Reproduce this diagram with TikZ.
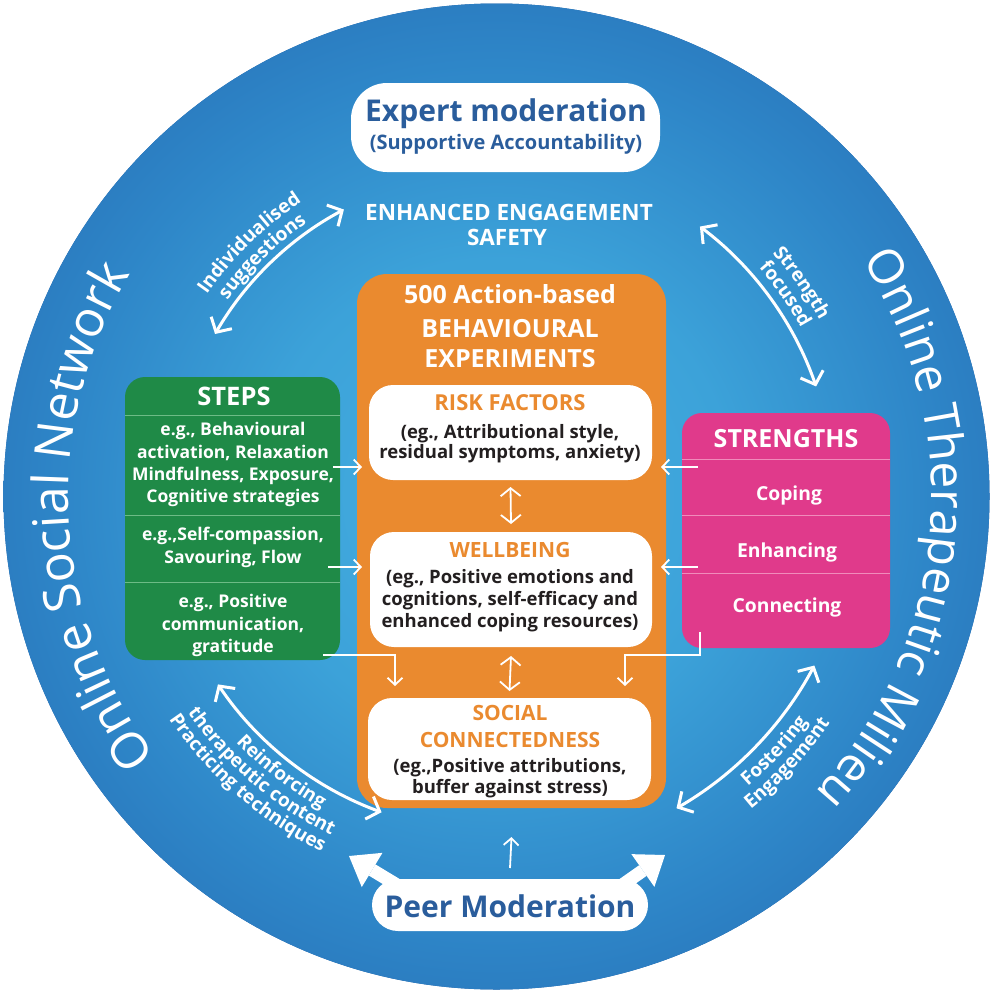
\documentclass[tikz,border=0pt]{standalone}
\usepackage{fontspec}
\setmainfont{Open Sans}
\usetikzlibrary{arrows.meta,decorations.text,calc}

\definecolor{ring}{HTML}{255EA2}
\definecolor{orng}{HTML}{EA8A2F}
\definecolor{grn}{HTML}{1F8A47}
\definecolor{grnline}{HTML}{6DBB86}
\definecolor{pnk}{HTML}{E03A8B}
\definecolor{pnkline}{HTML}{F08BBB}
\definecolor{navy}{HTML}{2A5D9C}
\definecolor{ink}{HTML}{231F20}

\pgfdeclareradialshading{disc}{\pgfpoint{0bp}{0bp}}{%
  color(0bp)=(rgb,255:red,70;green,175;blue,225);
  color(12bp)=(rgb,255:red,60;green,162;blue,217);
  color(22bp)=(rgb,255:red,46;green,134;blue,200);
  color(30bp)=(rgb,255:red,40;green,113;blue,183);
  color(38bp)=(rgb,255:red,37;green,98;blue,168);
  color(50bp)=(rgb,255:red,36;green,91;blue,158)}

\newcommand\fs[1]{\fontsize{#1}{#1}\selectfont}

\begin{document}
\begin{tikzpicture}[x=1pt,y=-1pt,
  panel/.style={inner sep=0pt, outer sep=0pt, draw=none},
  txt/.style={inner sep=0pt, anchor=base},
  arr/.style={white, line width=1.8pt, -{Straight Barb[length=7pt,width=15pt]}},
  elbow/.style={white, line width=1.8pt, -{Straight Barb[length=7pt,width=15pt]}},
  dbl/.style={white, line width=1.8pt, {Straight Barb[length=8pt,width=20pt]}-{Straight Barb[length=8pt,width=20pt]}},
  curv/.style={white, line width=3pt, {Straight Barb[length=11pt,width=24pt]}-{Straight Barb[length=11pt,width=24pt]}},
  shaft/.style={white, line width=13pt},
  arctext/.style={decorate, decoration={text along path, text align=center, text color=white, text={#1}}},
]
\useasboundingbox (0,0) rectangle (993,993);
\coordinate (C) at (496.5,496.5);

% background disc
\fill[ring] (C) circle[radius=493];
\shade[shading=disc] (C) circle[radius=493];

% ring titles
\path[arctext={|\fs{50}|Online Social Network}]
  ($(C)+(-243:428)$) arc[start angle=-243, end angle=-123, radius=428];
\path[arctext={|\fs{48}|Online Therapeutic Milieu}]
  ($(C)+(-55:435)$) arc[start angle=-55, end angle=65, radius=435];

% expert moderation
\node[panel, fill=white, rounded corners=36pt, minimum width=309pt, minimum height=89pt] (expert) at (505.5,127.5) {};
\node[txt, text=navy, font=\bfseries\fs{30}] (expT) at (506,121) {Expert moderation};
\node[txt, text=navy, font=\bfseries\fs{20}] (expS) at (506,149) {(Supportive Accountability)};

\node[txt, text=white, font=\bfseries\fs{22.5}] (eng1) at (509,220) {ENHANCED ENGAGEMENT};
\node[txt, text=white, font=\bfseries\fs{22.5}] (eng2) at (507,245) {SAFETY};

% central panel
\node[panel, fill=orng, rounded corners=30pt, minimum width=309pt, minimum height=534pt] (orange) at (511.5,541) {};
\node[txt, text=white, font=\bfseries\fs{25}] (or1) at (510,303.5) {500 Action-based};
\node[txt, text=white, font=\bfseries\fs{25}] (or2) at (510,337) {BEHAVIOURAL};
\node[txt, text=white, font=\bfseries\fs{25}] (or3) at (510,367) {EXPERIMENTS};

\node[panel, fill=white, rounded corners=24pt, minimum width=283pt, minimum height=95pt] (risk) at (510.5,432.5) {};
\node[txt, text=orng, font=\bfseries\fs{22}] (rk0) at (510,410) {RISK FACTORS};
\node[txt, text=ink, font=\bfseries\fs{18.5}] (rk1) at (510,438) {(eg., Attributional style,};
\node[txt, text=ink, font=\bfseries\fs{18.5}] (rk2) at (510,458) {residual symptoms, anxiety)};

\node[panel, fill=white, rounded corners=24pt, minimum width=282pt, minimum height=115pt] (well) at (511,589.5) {};
\node[txt, text=orng, font=\bfseries\fs{21}] (wb0) at (510,557) {WELLBEING};
\node[txt, text=ink, font=\bfseries\fs{18.5}] (wb1) at (510,583) {(eg., Positive emotions and};
\node[txt, text=ink, font=\bfseries\fs{18.5}] (wb2) at (510,605) {cognitions, self-efficacy and};
\node[txt, text=ink, font=\bfseries\fs{18.5}] (wb3) at (510,627) {enhanced coping resources)};

\node[panel, fill=white, rounded corners=24pt, minimum width=283pt, minimum height=102pt] (social) at (509.5,749) {};
\node[txt, text=orng, font=\bfseries\fs{21}] (sc0) at (510,720) {SOCIAL};
\node[txt, text=orng, font=\bfseries\fs{21}] (sc1) at (510,747) {CONNECTEDNESS};
\node[txt, text=ink, font=\bfseries\fs{18.5}] (sc2) at (510,772) {(eg.,Positive attributions,};
\node[txt, text=ink, font=\bfseries\fs{18.5}] (sc3) at (510,793) {buffer against stress)};

\draw[dbl] ([yshift=-7pt]risk.south) -- ([yshift=8pt]well.north);
\draw[dbl] ([yshift=-9pt]well.south) -- ([yshift=7pt]social.north);

% steps panel
\node[panel, fill=grn, rounded corners=20pt, minimum width=215pt, minimum height=283pt] (steps) at (232.5,518.5) {};
\foreach \yy in {415,515,582}
  \draw[grnline, line width=0.8pt] (steps.west |- 0,\yy) -- (steps.east |- 0,\yy);
\node[txt, text=white, font=\bfseries\fs{25.5}] (stT) at (234,405) {STEPS};
\node[txt, text=white, font=\bfseries\fs{17.5}] (st1) at (233,435) {e.g., Behavioural};
\node[txt, text=white, font=\bfseries\fs{17.5}] (st2) at (233,458) {activation, Relaxation};
\node[txt, text=white, font=\bfseries\fs{17.5}] (st3) at (233,480) {Mindfulness, Exposure,};
\node[txt, text=white, font=\bfseries\fs{17.5}] (st4) at (233,502) {Cognitive strategies};
\node[txt, text=white, font=\bfseries\fs{17.5}] (st5) at (233,540) {e.g.,Self-compassion,};
\node[txt, text=white, font=\bfseries\fs{17.5}] (st6) at (233,563) {Savouring, Flow};
\node[txt, text=white, font=\bfseries\fs{17.5}] (st7) at (233,607) {e.g., Positive};
\node[txt, text=white, font=\bfseries\fs{17.5}] (st8) at (233,630) {communication,};
\node[txt, text=white, font=\bfseries\fs{17.5}] (st9) at (233,652) {gratitude};

% strengths panel
\node[panel, fill=pnk, rounded corners=20pt, minimum width=208pt, minimum height=235pt] (strengths) at (786,530.5) {};
\foreach \yy in {459,515,573}
  \draw[pnkline, line width=0.8pt] (strengths.west |- 0,\yy) -- (strengths.east |- 0,\yy);
\node[txt, text=white, font=\bfseries\fs{25}] (sgT) at (786,447) {STRENGTHS};
\node[txt, text=white, font=\bfseries\fs{19.3}] (sg1) at (789,500) {Coping};
\node[txt, text=white, font=\bfseries\fs{19.3}] (sg2) at (787,557) {Enhancing};
\node[txt, text=white, font=\bfseries\fs{19.3}] (sg3) at (787,612) {Connecting};

% links into the central panel
\coordinate (la) at (333,467);
\coordinate (lb) at (328,567);
\coordinate (lc) at (323,655);
\coordinate (ra) at (698,467);
\coordinate (rb) at (698,567);
\coordinate (rc) at (700,632);
\draw[arr] (la) -- ([xshift=5pt]orange.west |- la);
\draw[arr] (lb) -- ([xshift=5pt]orange.west |- lb);
\draw[arr] (ra) -- ([xshift=-5pt]orange.east |- ra);
\draw[arr] (rb) -- ([xshift=-5pt]orange.east |- rb);
\draw[elbow] (lc) -- (395,655) -- (395,686);
\draw[elbow] (rc) -- (700,655) -- (625,655) -- (625,686);

% peer moderation with its two broad arrows
\coordinate (plS) at (402,888);
\coordinate (plT) at (349,856);
\coordinate (prS) at (618,888);
\coordinate (prT) at (665,855);
\coordinate (plB) at ($(plT)!27pt!(plS)$);
\coordinate (prB) at ($(prT)!27pt!(prS)$);
\draw[shaft] (plS) -- (plB);
\draw[shaft] (prS) -- (prB);
\fill[white] (plT) -- ($(plB)!20pt!90:(plT)$) -- ($(plB)!20pt!-90:(plT)$) -- cycle;
\fill[white] (prT) -- ($(prB)!20pt!90:(prT)$) -- ($(prB)!20pt!-90:(prT)$) -- cycle;
\node[panel, fill=white, rounded corners=26pt, minimum width=276pt, minimum height=52pt] (peer) at (510,905) {};
\node[txt, text=navy, font=\bfseries\fs{30}] (peerT) at (510,917) {Peer Moderation};
\draw[arr] ([yshift=11pt]peer.north) -- ([yshift=-29pt]orange.south);

% curved double arrows with their captions
\coordinate (i1) at ($(C)+(-150:325)$);
\draw[curv] (i1) arc[start angle=-150, end angle=-118, radius=325];
\path[arctext={|\bfseries\fs{19}|Individualised}]
  ($(C)+(-154.3:353)$) arc[start angle=-154.3, end angle=-114.3, radius=353];
\path[arctext={|\bfseries\fs{19}|suggestions}]
  ($(C)+(-154.3:333)$) arc[start angle=-154.3, end angle=-114.3, radius=333];

\coordinate (s1) at ($(C)+(-53:338)$);
\draw[curv] (s1) arc[start angle=-53, end angle=-19, radius=338];
\path[arctext={|\bfseries\fs{19}|Strength}]
  ($(C)+(-55:368)$) arc[start angle=-55, end angle=-15, radius=368];
\path[arctext={|\bfseries\fs{19}|focused}]
  ($(C)+(-55:348)$) arc[start angle=-55, end angle=-15, radius=348];

\coordinate (r1) at ($(C)+(-214:336)$);
\draw[curv] (r1) arc[start angle=-214, end angle=-250, radius=336];
\path[arctext={|\bfseries\fs{19}|Reinforcing}]
  ($(C)+(-207:358)$) arc[start angle=-207, end angle=-257, radius=358];
\path[arctext={|\bfseries\fs{19}|therapeutic content}]
  ($(C)+(-204.5:377)$) arc[start angle=-204.5, end angle=-254.5, radius=377];
\path[arctext={|\bfseries\fs{19}|Practicing techniques}]
  ($(C)+(-204:396)$) arc[start angle=-204, end angle=-254, radius=396];

\coordinate (f1) at ($(C)+(28:360)$);
\draw[curv] (f1) arc[start angle=28, end angle=60, radius=360];
\path[arctext={|\bfseries\fs{19}|Fostering}]
  ($(C)+(62.5:384)$) arc[start angle=62.5, end angle=22.5, radius=384];
\path[arctext={|\bfseries\fs{19}|Engagement}]
  ($(C)+(62.5:403)$) arc[start angle=62.5, end angle=22.5, radius=403];
\end{tikzpicture}
\end{document}
